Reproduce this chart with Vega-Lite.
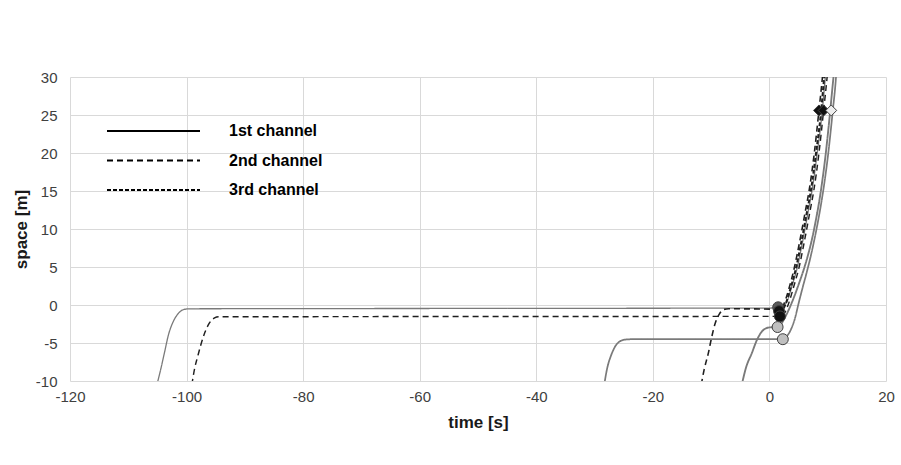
{
  "$schema": "https://vega.github.io/schema/vega-lite/v6.json",
  "width": 816,
  "height": 304,
  "autosize": {"type": "none"},
  "padding": {"left": 70, "top": 77, "right": 15, "bottom": 84},
  "background": "white",
  "config": {
    "view": {"stroke": null},
    "font": "Liberation Sans",
    "axis": {
      "grid": true,
      "gridColor": "#d9d9d9",
      "gridWidth": 1,
      "domain": false,
      "ticks": false,
      "labelFontSize": 15,
      "labelColor": "#404040",
      "labelOverlap": false,
      "labelFlush": false,
      "labelExpr": "'' + datum.value",
      "titleFontSize": 17,
      "titleFontWeight": "bold",
      "titleColor": "#1a1a1a"
    },
    "legend": {
      "orient": "none",
      "legendX": 36,
      "legendY": 42,
      "title": null,
      "padding": 0,
      "symbolType": "stroke",
      "symbolSize": 8649,
      "symbolStrokeColor": "#000000",
      "symbolStrokeWidth": 2,
      "labelFontSize": 16,
      "labelFontWeight": "bold",
      "labelColor": "#000000",
      "labelOffset": 28,
      "clipHeight": 24,
      "rowPadding": 5.5
    }
  },
  "datasets": {
    "traj": [
      {"id": "A", "channel": "1st channel", "t": -105.1, "s": -10.5},
      {"id": "A", "channel": "1st channel", "t": -104.6, "s": -9},
      {"id": "A", "channel": "1st channel", "t": -103.8, "s": -6.3},
      {"id": "A", "channel": "1st channel", "t": -103.1, "s": -3.9},
      {"id": "A", "channel": "1st channel", "t": -102.3, "s": -2.2},
      {"id": "A", "channel": "1st channel", "t": -101.4, "s": -1.1},
      {"id": "A", "channel": "1st channel", "t": -100.5, "s": -0.6},
      {"id": "A", "channel": "1st channel", "t": -99.5, "s": -0.5},
      {"id": "A", "channel": "1st channel", "t": -50, "s": -0.45},
      {"id": "A", "channel": "1st channel", "t": 0, "s": -0.4},
      {"id": "A", "channel": "1st channel", "t": 1.5, "s": -0.3},
      {"id": "A", "channel": "1st channel", "t": 2.2, "s": -0.15},
      {"id": "A", "channel": "1st channel", "t": 2.9, "s": 0.3},
      {"id": "A", "channel": "1st channel", "t": 3.9, "s": 2.6},
      {"id": "A", "channel": "1st channel", "t": 4.8, "s": 5},
      {"id": "A", "channel": "1st channel", "t": 5.5, "s": 7.6},
      {"id": "A", "channel": "1st channel", "t": 6.1, "s": 10},
      {"id": "A", "channel": "1st channel", "t": 6.7, "s": 12.5},
      {"id": "A", "channel": "1st channel", "t": 7.3, "s": 15},
      {"id": "A", "channel": "1st channel", "t": 8.2, "s": 20},
      {"id": "A", "channel": "1st channel", "t": 9.0, "s": 25},
      {"id": "A", "channel": "1st channel", "t": 9.6, "s": 30},
      {"id": "A", "channel": "1st channel", "t": 9.7, "s": 30.8},

      {"id": "B", "channel": "2nd channel", "t": -99.1, "s": -10.5},
      {"id": "B", "channel": "2nd channel", "t": -98.6, "s": -8.3},
      {"id": "B", "channel": "2nd channel", "t": -98.1, "s": -6.8},
      {"id": "B", "channel": "2nd channel", "t": -97.5, "s": -5.1},
      {"id": "B", "channel": "2nd channel", "t": -96.9, "s": -3.7},
      {"id": "B", "channel": "2nd channel", "t": -96.1, "s": -2.4},
      {"id": "B", "channel": "2nd channel", "t": -95.2, "s": -1.7},
      {"id": "B", "channel": "2nd channel", "t": -94.5, "s": -1.55},
      {"id": "B", "channel": "2nd channel", "t": 0, "s": -1.5},
      {"id": "B", "channel": "2nd channel", "t": 1.8, "s": -1.5},
      {"id": "B", "channel": "2nd channel", "t": 2.4, "s": -1.3},
      {"id": "B", "channel": "2nd channel", "t": 3.2, "s": 0},
      {"id": "B", "channel": "2nd channel", "t": 4.2, "s": 2.5},
      {"id": "B", "channel": "2nd channel", "t": 5.1, "s": 5},
      {"id": "B", "channel": "2nd channel", "t": 5.8, "s": 7.6},
      {"id": "B", "channel": "2nd channel", "t": 6.4, "s": 10},
      {"id": "B", "channel": "2nd channel", "t": 7.0, "s": 12.5},
      {"id": "B", "channel": "2nd channel", "t": 7.6, "s": 15},
      {"id": "B", "channel": "2nd channel", "t": 8.5, "s": 20},
      {"id": "B", "channel": "2nd channel", "t": 9.3, "s": 25.6},
      {"id": "B", "channel": "2nd channel", "t": 9.9, "s": 30},
      {"id": "B", "channel": "2nd channel", "t": 10.0, "s": 30.8},

      {"id": "C", "channel": "2nd channel", "t": -11.7, "s": -10.5},
      {"id": "C", "channel": "2nd channel", "t": -11.2, "s": -8.5},
      {"id": "C", "channel": "2nd channel", "t": -10.5, "s": -6.4},
      {"id": "C", "channel": "2nd channel", "t": -9.9, "s": -4.2},
      {"id": "C", "channel": "2nd channel", "t": -9.3, "s": -2.4},
      {"id": "C", "channel": "2nd channel", "t": -8.6, "s": -1.2},
      {"id": "C", "channel": "2nd channel", "t": -7.9, "s": -0.6},
      {"id": "C", "channel": "2nd channel", "t": -7.0, "s": -0.5},
      {"id": "C", "channel": "2nd channel", "t": 1.0, "s": -0.55},
      {"id": "C", "channel": "2nd channel", "t": 1.65, "s": -0.8},
      {"id": "C", "channel": "2nd channel", "t": 2.0, "s": -0.45},
      {"id": "C", "channel": "2nd channel", "t": 2.4, "s": 0},
      {"id": "C", "channel": "2nd channel", "t": 3.4, "s": 2.3},
      {"id": "C", "channel": "2nd channel", "t": 4.3, "s": 5},
      {"id": "C", "channel": "2nd channel", "t": 5.0, "s": 7.6},
      {"id": "C", "channel": "2nd channel", "t": 5.6, "s": 10},
      {"id": "C", "channel": "2nd channel", "t": 6.2, "s": 12.5},
      {"id": "C", "channel": "2nd channel", "t": 6.8, "s": 15},
      {"id": "C", "channel": "2nd channel", "t": 7.7, "s": 20},
      {"id": "C", "channel": "2nd channel", "t": 8.5, "s": 25.6},
      {"id": "C", "channel": "2nd channel", "t": 9.1, "s": 30},
      {"id": "C", "channel": "2nd channel", "t": 9.2, "s": 30.8},

      {"id": "D", "channel": "1st channel", "t": -28.35, "s": -10.5},
      {"id": "D", "channel": "1st channel", "t": -27.8, "s": -8.2},
      {"id": "D", "channel": "1st channel", "t": -27.2, "s": -6.7},
      {"id": "D", "channel": "1st channel", "t": -26.5, "s": -5.5},
      {"id": "D", "channel": "1st channel", "t": -25.7, "s": -4.8},
      {"id": "D", "channel": "1st channel", "t": -24.7, "s": -4.55},
      {"id": "D", "channel": "1st channel", "t": -23.5, "s": -4.5},
      {"id": "D", "channel": "1st channel", "t": 0, "s": -4.5},
      {"id": "D", "channel": "1st channel", "t": 2.3, "s": -4.5},
      {"id": "D", "channel": "1st channel", "t": 3.0, "s": -4.1},
      {"id": "D", "channel": "1st channel", "t": 3.7, "s": -3.2},
      {"id": "D", "channel": "1st channel", "t": 4.4, "s": -1.7},
      {"id": "D", "channel": "1st channel", "t": 5.0, "s": 0.2},
      {"id": "D", "channel": "1st channel", "t": 5.7, "s": 2.3},
      {"id": "D", "channel": "1st channel", "t": 6.4, "s": 4.3},
      {"id": "D", "channel": "1st channel", "t": 7.2, "s": 6.8},
      {"id": "D", "channel": "1st channel", "t": 7.9, "s": 9.3},
      {"id": "D", "channel": "1st channel", "t": 8.5, "s": 11.7},
      {"id": "D", "channel": "1st channel", "t": 9.1, "s": 14.4},
      {"id": "D", "channel": "1st channel", "t": 9.6, "s": 17.0},
      {"id": "D", "channel": "1st channel", "t": 10.1, "s": 20.0},
      {"id": "D", "channel": "1st channel", "t": 10.5, "s": 22.8},
      {"id": "D", "channel": "1st channel", "t": 10.9, "s": 25.8},
      {"id": "D", "channel": "1st channel", "t": 11.3, "s": 28.8},
      {"id": "D", "channel": "1st channel", "t": 11.5, "s": 30.8},

      {"id": "E", "channel": "1st channel", "t": -4.75, "s": -10.5},
      {"id": "E", "channel": "1st channel", "t": -4.0, "s": -8.2},
      {"id": "E", "channel": "1st channel", "t": -3.0, "s": -6.3},
      {"id": "E", "channel": "1st channel", "t": -2.2, "s": -4.7},
      {"id": "E", "channel": "1st channel", "t": -1.5, "s": -3.7},
      {"id": "E", "channel": "1st channel", "t": -0.8, "s": -3.15},
      {"id": "E", "channel": "1st channel", "t": 0, "s": -2.95},
      {"id": "E", "channel": "1st channel", "t": 1.4, "s": -2.9},
      {"id": "E", "channel": "1st channel", "t": 2.0, "s": -2.5},
      {"id": "E", "channel": "1st channel", "t": 2.7, "s": -1.6},
      {"id": "E", "channel": "1st channel", "t": 3.5, "s": -0.3},
      {"id": "E", "channel": "1st channel", "t": 4.3, "s": 1.2},
      {"id": "E", "channel": "1st channel", "t": 5.1, "s": 2.9},
      {"id": "E", "channel": "1st channel", "t": 5.9, "s": 4.7},
      {"id": "E", "channel": "1st channel", "t": 6.7, "s": 6.8},
      {"id": "E", "channel": "1st channel", "t": 7.4, "s": 9.0},
      {"id": "E", "channel": "1st channel", "t": 8.0, "s": 11.3},
      {"id": "E", "channel": "1st channel", "t": 8.6, "s": 13.9},
      {"id": "E", "channel": "1st channel", "t": 9.1, "s": 16.5},
      {"id": "E", "channel": "1st channel", "t": 9.6, "s": 19.5},
      {"id": "E", "channel": "1st channel", "t": 10.0, "s": 22.3},
      {"id": "E", "channel": "1st channel", "t": 10.4, "s": 25.3},
      {"id": "E", "channel": "1st channel", "t": 10.8, "s": 28.5},
      {"id": "E", "channel": "1st channel", "t": 11.1, "s": 30.8},

      {"id": "F", "channel": "3rd channel", "t": 1.75, "s": -1.0},
      {"id": "F", "channel": "3rd channel", "t": 2.2, "s": -0.7},
      {"id": "F", "channel": "3rd channel", "t": 2.7, "s": 0},
      {"id": "F", "channel": "3rd channel", "t": 3.7, "s": 2.4},
      {"id": "F", "channel": "3rd channel", "t": 4.6, "s": 5},
      {"id": "F", "channel": "3rd channel", "t": 5.3, "s": 7.6},
      {"id": "F", "channel": "3rd channel", "t": 5.9, "s": 10},
      {"id": "F", "channel": "3rd channel", "t": 6.5, "s": 12.5},
      {"id": "F", "channel": "3rd channel", "t": 7.1, "s": 15},
      {"id": "F", "channel": "3rd channel", "t": 8.0, "s": 20},
      {"id": "F", "channel": "3rd channel", "t": 8.8, "s": 25},
      {"id": "F", "channel": "3rd channel", "t": 9.4, "s": 30},
      {"id": "F", "channel": "3rd channel", "t": 9.5, "s": 30.8}
    ],
    "events": [
      {"t": 1.5, "s": -0.3, "type": "dark", "event": "start"},
      {"t": 1.65, "s": -0.8, "type": "black", "event": "start"},
      {"t": 1.8, "s": -1.5, "type": "black", "event": "start"},
      {"t": 1.4, "s": -2.9, "type": "light", "event": "start"},
      {"t": 2.3, "s": -4.5, "type": "light", "event": "start"},
      {"t": 8.5, "s": 25.6, "type": "black", "event": "pass"},
      {"t": 9.3, "s": 25.6, "type": "black", "event": "pass"},
      {"t": 10.6, "s": 25.6, "type": "pale", "event": "pass"}
    ]
  },
  "encoding": {
    "x": {
      "field": "t", "type": "quantitative",
      "scale": {"domain": [-120, 20], "nice": false},
      "axis": {
        "title": "time [s]",
        "values": [-120, -100, -80, -60, -40, -20, 0, 20],
        "labelPadding": 8,
        "titlePadding": 10
      }
    },
    "y": {
      "field": "s", "type": "quantitative",
      "scale": {"domain": [-10, 30], "nice": false},
      "axis": {
        "title": "space [m]",
        "values": [-10, -5, 0, 5, 10, 15, 20, 25, 30],
        "labelPadding": 13,
        "titlePadding": 5
      }
    }
  },
  "layer": [
    {
      "data": {"name": "traj"},
      "mark": {"type": "line", "interpolate": "monotone", "clip": true},
      "encoding": {
        "strokeDash": {
          "field": "channel", "type": "nominal",
          "scale": {"domain": ["1st channel", "2nd channel", "3rd channel"], "range": [[1, 0], [6, 4], [4, 2]]}
        },
        "color": {
          "field": "id", "type": "nominal",
          "scale": {"domain": ["A", "B", "C", "D", "E", "F"], "range": ["#7a7a7a", "#1f1f1f", "#1f1f1f", "#7a7a7a", "#7a7a7a", "#1f1f1f"]},
          "legend": null
        },
        "strokeWidth": {
          "field": "id", "type": "nominal",
          "scale": {"domain": ["A", "B", "C", "D", "E", "F"], "range": [1.3, 2, 2, 1.3, 1.3, 2]},
          "legend": null
        }
      }
    },
    {
      "data": {"name": "events"},
      "mark": {"type": "point", "filled": true, "size": 120, "stroke": "#404040", "strokeWidth": 1, "opacity": 1},
      "encoding": {
        "shape": {
          "field": "event", "type": "nominal",
          "scale": {"domain": ["start", "pass"], "range": ["circle", "diamond"]},
          "legend": null
        },
        "fill": {
          "field": "type", "type": "nominal",
          "scale": {"domain": ["dark", "black", "light", "pale"], "range": ["#595959", "#111111", "#bfbfbf", "#eeeeee"]},
          "legend": null
        }
      }
    }
  ]
}
